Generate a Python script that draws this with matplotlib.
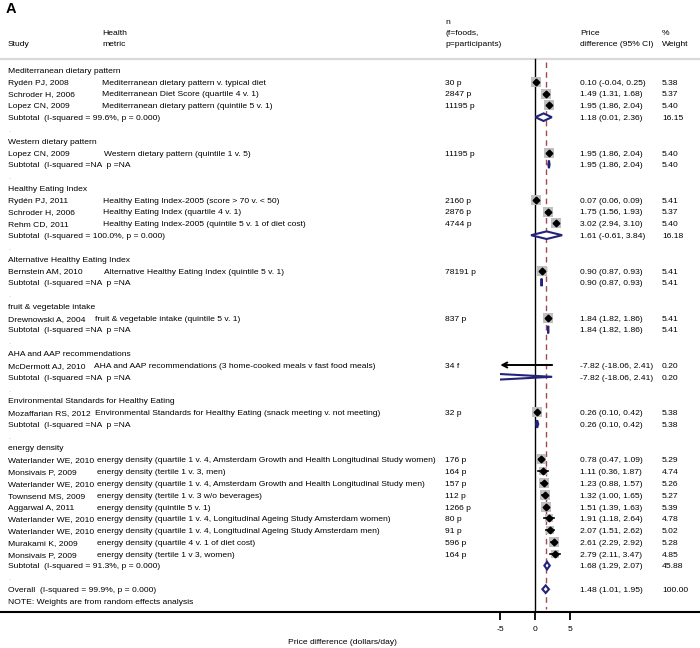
import matplotlib
matplotlib.use("Agg")
import matplotlib.pyplot as plt
from matplotlib.patches import Polygon, Rectangle

# --- DATA ---
group_names = [
    "Mediterranean dietary pattern",
    "Western dietary pattern",
    "Healthy Eating Index",
    "Alternative Healthy Eating Index",
    "fruit & vegetable intake",
    "AHA and AAP recommendations",
    "Environmental Standards for Healthy Eating",
    "energy density",
]

study_names = [
    "Rydén PJ, 2008", "Schroder H, 2006", "Lopez CN, 2009",
    "Lopez CN, 2009",
    "Rydén PJ, 2011", "Schroder H, 2006", "Rehm CD, 2011",
    "Bernstein AM, 2010",
    "Drewnowski A, 2004",
    "McDermott AJ, 2010",
    "Mozaffarian RS, 2012",
    "Waterlander WE, 2010", "Monsivais P, 2009", "Waterlander WE, 2010",
    "Townsend MS, 2009", "Aggarwal A, 2011", "Waterlander WE, 2010",
    "Waterlander WE, 2010", "Murakami K, 2009", "Monsivais P, 2009",
]

metric_names = [
    "Mediterranean dietary pattern v. typical diet",
    "Mediterranean Diet Score (quartile 4 v. 1)",
    "Mediterranean dietary pattern (quintile 5 v. 1)",
    "Western dietary pattern (quintile 1 v. 5)",
    "Healthy Eating Index-2005 (score > 70 v. < 50)",
    "Healthy Eating Index (quartile 4 v. 1)",
    "Healthy Eating Index-2005 (quintile 5 v. 1 of diet cost)",
    "Alternative Healthy Eating Index (quintile 5 v. 1)",
    "fruit & vegetable intake (quintile 5 v. 1)",
    "AHA and AAP recommendations (3 home-cooked meals v fast food meals)",
    "Environmental Standards for Healthy Eating (snack meeting v. not meeting)",
    "energy density (quartile 1 v. 4, Amsterdam Growth and Health Longitudinal Study women)",
    "energy density (tertile 1 v. 3, men)",
    "energy density (quartile 1 v. 4, Amsterdam Growth and Health Longitudinal Study men)",
    "energy density (tertile 1 v. 3 w/o beverages)",
    "energy density (quintile 5 v. 1)",
    "energy density (quartile 1 v. 4, Longitudinal Ageing Study Amsterdam women)",
    "energy density (quartile 1 v. 4, Longitudinal Ageing Study Amsterdam men)",
    "energy density (quartile 4 v. 1 of diet cost)",
    "energy density (tertile 1 v 3, women)",
]

n_labels = [
    "30 p", "2847 p", "11195 p",
    "11195 p",
    "2160 p", "2876 p", "4744 p",
    "78191 p",
    "837 p",
    "34 f",
    "32 p",
    "176 p", "164 p", "157 p", "112 p", "1266 p", "80 p", "91 p", "596 p", "164 p",
]

study_group = [0, 0, 0, 1, 2, 2, 2, 3, 4, 5, 6, 7, 7, 7, 7, 7, 7, 7, 7, 7]

study_est = [0.10, 1.49, 1.95, 1.95, 0.07, 1.75, 3.02, 0.90, 1.84, -7.82, 0.26,
             0.78, 1.11, 1.23, 1.32, 1.51, 1.91, 2.07, 2.61, 2.79]
study_lo = [-0.04, 1.31, 1.86, 1.86, 0.06, 1.56, 2.94, 0.87, 1.82, -18.06, 0.10,
            0.47, 0.36, 0.88, 1.00, 1.39, 1.18, 1.51, 2.29, 2.11]
study_hi = [0.25, 1.68, 2.04, 2.04, 0.09, 1.93, 3.10, 0.93, 1.86, 2.41, 0.42,
            1.09, 1.87, 1.57, 1.65, 1.63, 2.64, 2.62, 2.92, 3.47]
study_wt = [5.38, 5.37, 5.40, 5.40, 5.41, 5.37, 5.40, 5.41, 5.41, 0.20, 5.38,
            5.29, 4.74, 5.26, 5.27, 5.39, 4.78, 5.02, 5.28, 4.85]

subtotal_text = [
    "Subtotal  (I-squared = 99.6%, p = 0.000)",
    "Subtotal  (I-squared =NA  p =NA",
    "Subtotal  (I-squared = 100.0%, p = 0.000)",
    "Subtotal  (I-squared =NA  p =NA",
    "Subtotal  (I-squared =NA  p =NA",
    "Subtotal  (I-squared =NA  p =NA",
    "Subtotal  (I-squared =NA  p =NA",
    "Subtotal  (I-squared = 91.3%, p = 0.000)",
]
sub_est = [1.18, 1.95, 1.61, 0.90, 1.84, -7.82, 0.26, 1.68]
sub_lo = [0.01, 1.86, -0.61, 0.87, 1.82, -18.06, 0.10, 1.29]
sub_hi = [2.36, 2.04, 3.84, 0.93, 1.86, 2.41, 0.42, 2.07]
sub_wt = [16.15, 5.40, 16.18, 5.41, 5.41, 0.20, 5.38, 45.88]

overall_text = "Overall  (I-squared = 99.9%, p = 0.000)"
overall_est, overall_lo, overall_hi, overall_wt = 1.48, 1.01, 1.95, 100.00

x_ticks = [-5, 0, 5]

# --- LAYOUT (pixels) ---
W, H = 700, 648
X0_PX = 535.3          # pixel position of effect 0
PX_PER_UNIT = 7.0
ROW0, ROW_H = 70.0, 11.8
AXIS_Y = 612.0
PLOT_MIN, PLOT_MAX = -5, 5
metric_px = [102, 104, 103, 104, 95, 94, 95, 97]   # metric column per group

FS = 6.1
BASE_OFF = 2.9         # baseline offset so caps sit centred on the row
NAVY = "#23237a"
REF_RED = "#a04a55"
SQ_GRAY = "#c0c0c0"

plt.rcParams["font.family"] = ["Liberation Sans", "DejaVu Sans"]


def px2x(px):
    return (px - X0_PX) / PX_PER_UNIT


fig = plt.figure(figsize=(W / 100, H / 100), dpi=100)
ax = fig.add_axes([0, (H - AXIS_Y) / H, 1, AXIS_Y / H])
ax.set_xlim(px2x(0), px2x(W))
ax.set_ylim(AXIS_Y, 0)
for s in ("left", "right", "top"):
    ax.spines[s].set_visible(False)
ax.spines["bottom"].set_linewidth(1.5)
ax.set_yticks([])
ax.set_xticks(x_ticks)
ax.set_xticklabels([str(t) for t in x_ticks])
ax.tick_params(axis="x", direction="out", length=6, width=1.3, labelsize=FS, pad=4.0)

clip = Rectangle((PLOT_MIN, 0), PLOT_MAX - PLOT_MIN, AXIS_Y, transform=ax.transData,
                 visible=False)
ax.add_patch(clip)


def txt(px, y, s, **kw):
    kw.setdefault("fontsize", FS)
    ax.text(px2x(px), y + BASE_OFF, s, va="baseline", ha="left", **kw)


def diamond(est, lo, hi, y, hh=3.8):
    pts = [(lo, y), (est, y - hh), (hi, y), (est, y + hh)]
    p = Polygon(pts, closed=True, facecolor="white", edgecolor=NAVY, lw=1.5, zorder=4)
    ax.add_patch(p)
    p.set_clip_path(clip)


def columns(y, est, lo, hi, wt):
    txt(580, y, f"{est:.2f} ({lo:.2f}, {hi:.2f})")
    txt(662, y, f"{wt:.2f}")


# panel letter and header
ax.text(px2x(6), 13, "A", fontsize=10.5, fontweight="bold", va="baseline", ha="left")
txt(8, 43, "Study")
txt(102, 32, "Health")
txt(102, 43, "metric")
txt(445, 21, "n")
txt(445, 32, "(f=foods,")
txt(445, 43, "p=participants)")
txt(580, 32, "Price")
txt(580, 43, "difference (95% CI)")
txt(662, 32, "%")
txt(662, 43, "Weight")
ax.axhline(59, color="#d9d9d9", lw=1.6, zorder=1)

# reference lines
ax.plot([0, 0], [59, AXIS_Y], color="black", lw=1.0, zorder=2)
ax.plot([overall_est, overall_est], [62, AXIS_Y - 3], color=REF_RED, lw=1.0,
        ls=(0, (4, 3)), zorder=2)

row = 0
for g, gname in enumerate(group_names):
    y = ROW0 + ROW_H * row
    txt(8, y, gname)
    row += 1
    for i, sg in enumerate(study_group):
        if sg != g:
            continue
        y = ROW0 + ROW_H * row
        txt(8, y, study_names[i])
        txt(metric_px[g], y, metric_names[i])
        txt(445, y, n_labels[i])
        columns(y, study_est[i], study_lo[i], study_hi[i], study_wt[i])
        sq = ax.scatter([study_est[i]], [y], marker="s", s=8.0 * study_wt[i],
                        color=SQ_GRAY, linewidths=0, zorder=3)
        sq.set_clip_path(clip)
        if study_lo[i] < PLOT_MIN:
            ax.annotate("", xy=(PLOT_MIN, y), xytext=(study_hi[i], y),
                        arrowprops=dict(arrowstyle="->,head_length=0.35,head_width=0.18",
                                        color="black", lw=1.4, shrinkA=0, shrinkB=0),
                        zorder=4)
        else:
            ln, = ax.plot([study_lo[i], study_hi[i]], [y, y], color="black", lw=1.2, zorder=4)
            ln.set_clip_path(clip)
        pt, = ax.plot([study_est[i]], [y], marker="D", ms=3.4, color="black", zorder=5)
        pt.set_clip_path(clip)
        row += 1
    y = ROW0 + ROW_H * row
    txt(8, y, subtotal_text[g])
    columns(y, sub_est[g], sub_lo[g], sub_hi[g], sub_wt[g])
    diamond(sub_est[g], sub_lo[g], sub_hi[g], y)
    row += 1
    y = ROW0 + ROW_H * row
    txt(8, y, ".", color="#bbbbbb")
    row += 1

y = ROW0 + ROW_H * row
txt(8, y, overall_text)
columns(y, overall_est, overall_lo, overall_hi, overall_wt)
diamond(overall_est, overall_lo, overall_hi, y)

txt(8, 601, "NOTE: Weights are from random effects analysis")

fig.text(343 / W, 1 - 642 / H, "Price difference (dollars/day)", fontsize=FS,
         ha="center", va="center")

fig.savefig("out.png", dpi=100)
